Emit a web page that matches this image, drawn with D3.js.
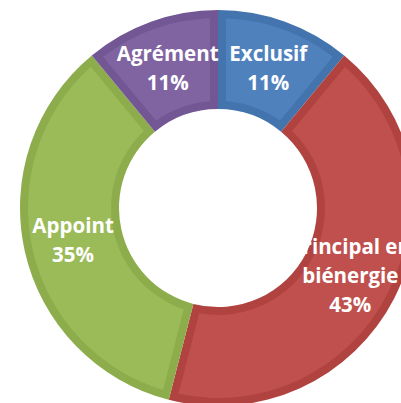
<!DOCTYPE html>
<html>
<head>
<meta charset="utf-8">
<script src="https://cdn.jsdelivr.net/npm/d3@7"></script>
<style>
  body { margin: 0; background: #fff; overflow: hidden; }
</style>
</head>
<body>
<div id="chart"></div>
<script>
const categories = ["Exclusif", "Principal en biénergie", "Appoint", "Agrément"];
const labelLines = [["Exclusif"], ["Principal en", "biénergie"], ["Appoint"], ["Agrément"]];
const values = [11, 43, 35, 11];
const fills = ["#4f81bd", "#c0504d", "#9bbb59", "#8064a2"];
const borders = ["#4474ad", "#b0433f", "#8dad4c", "#735795"];

const width = 401, height = 403;
const cx = 218, cy = 208;
const outerR = 198, innerR = 99, band = 8;

const svg = d3.select("#chart")
  .append("svg")
  .attr("width", width)
  .attr("height", height);

const g = svg.append("g")
  .attr("transform", `translate(${cx},${cy})`);

const data = categories.map((c, i) => ({ name: c, value: values[i], i }));

const pie = d3.pie()
  .value(d => d.value)
  .sort(null);

const arcs = pie(data);

const arcOuter = d3.arc()
  .innerRadius(innerR)
  .outerRadius(outerR);

const arcInner = d3.arc()
  .innerRadius(innerR + band)
  .outerRadius(outerR - band)
  .padRadius(outerR)
  .padAngle(2 * band / outerR);

const labelArc = d3.arc()
  .innerRadius((innerR + outerR) / 2)
  .outerRadius((innerR + outerR) / 2);

// darker border band
g.selectAll(".slice-border")
  .data(arcs)
  .enter().append("path")
  .attr("class", "slice-border")
  .attr("d", arcOuter)
  .attr("fill", d => borders[d.data.i]);

// lighter inner face
g.selectAll(".slice-face")
  .data(arcs)
  .enter().append("path")
  .attr("class", "slice-face")
  .attr("d", arcInner)
  .attr("fill", d => fills[d.data.i]);

const lineH = 29;

const labels = g.selectAll(".label")
  .data(arcs)
  .enter().append("text")
  .attr("class", "label")
  .attr("transform", d => `translate(${labelArc.centroid(d)})`)
  .attr("text-anchor", "middle")
  .attr("fill", "#fff")
  .style("font-family", "'Open Sans', sans-serif")
  .style("font-weight", 700)
  .style("font-size", "20.5px");

labels.each(function (d) {
  const lines = labelLines[d.data.i].concat([d.data.value + "%"]);
  const first = -(lines.length - 1) * lineH / 2 + 7.3;
  const t = d3.select(this);
  lines.forEach((s, k) => {
    t.append("tspan")
      .attr("x", 0)
      .attr("y", first + k * lineH)
      .text(s);
  });
});
</script>
</body>
</html>
